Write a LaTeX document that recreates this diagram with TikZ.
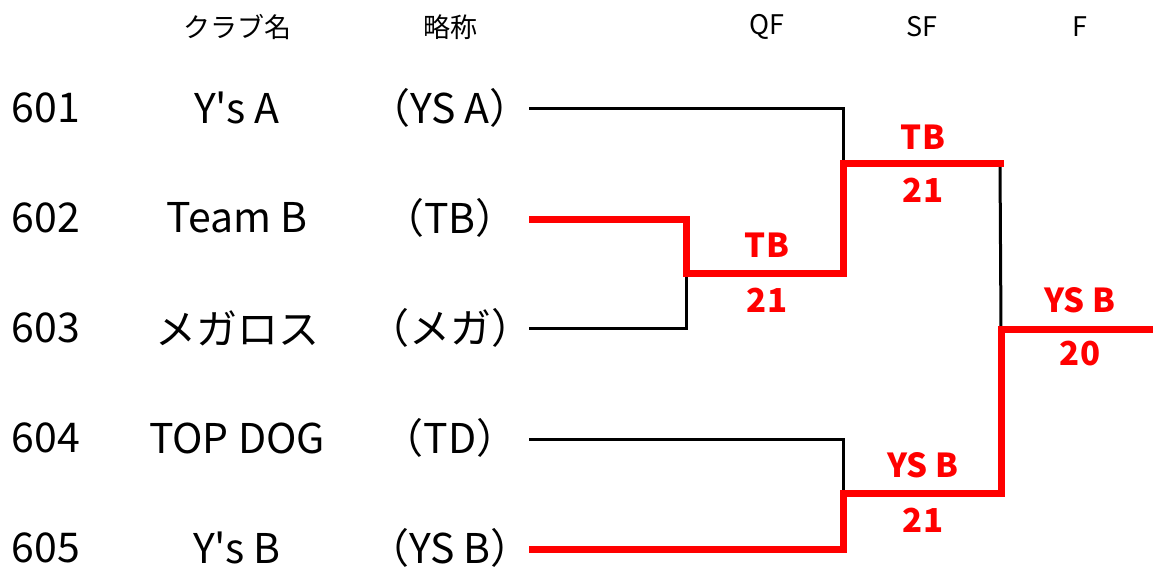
\documentclass[tikz,border=0pt]{standalone}
\usepackage{fontspec}
\setmainfont{Noto Sans CJK JP}[Ligatures=TeXOff]
\begin{document}
\begin{tikzpicture}[x=1pt,y=-1pt,
  head/.style={font=\fontsize{27}{29}\selectfont},
  big/.style={font=\fontsize{41}{44}\selectfont},
  res/.style={font=\fontsize{33}{35}\selectfont\bfseries,text=red},
  blk/.style={draw=black,line width=3pt},
  win/.style={draw=red,line width=7pt,line join=miter}]
\useasboundingbox (0,0) rectangle (1153,572);
% headers
\node[head] (h1) at (237,27) {クラブ名};
\node[head] (h2) at (450,27) {略称};
\node[head] (h3) at (767,27) {QF};
\node[head] (h4) at (922,27) {SF};
\node[head] (h5) at (1080,27) {F};
% rows
\foreach \i/\y/\nm/\ab in {1/108/Y's A/（YS A）,2/218/Team B/（TB）,3/328/メガロス/（メガ）,4/438/TOP DOG/（TD）,5/548/Y's B/（YS B）}{
  \node[big] (n\i) at (46,\y) {60\i};
  \node[big] (c\i) at (237,\y) {\nm};
  \node[big] (a\i) at (450,\y) {\ab};
}
% line starts
\coordinate (s1) at (529,109);
\coordinate (s2) at (529,219);
\coordinate (s3) at (529,328);
\coordinate (s4) at (529,439);
\coordinate (s5) at (529,549);
% joints
\coordinate (q1) at (686,273);
\coordinate (q2) at (843,164);
\coordinate (q3) at (843,493);
\coordinate (f1) at (1001,329);
\coordinate (e1) at (1153,329);
% black lines
\draw[blk] (s1) -| (q2);
\draw[blk] (s3) -| (q1);
\draw[blk] (s4) -| (q3);
\draw[blk] (1000,164) -- (f1);
% winners
\draw[win] (s2) -| (q1) -| (q2) -- (1003.5,164);
\draw[win] (s5) -| (q3) -| (f1) -- (e1);
% labels
\node[res] (l1) at (767,245) {TB};
\node[res] (l2) at (767,300) {21};
\node[res] (l3) at (923,137) {TB};
\node[res] (l4) at (923,190) {21};
\node[res] (l5) at (923,465) {YS B};
\node[res] (l6) at (923,520) {21};
\node[res] (l7) at (1080,300) {YS B};
\node[res] (l8) at (1080,354) {20};
\end{tikzpicture}
\end{document}
